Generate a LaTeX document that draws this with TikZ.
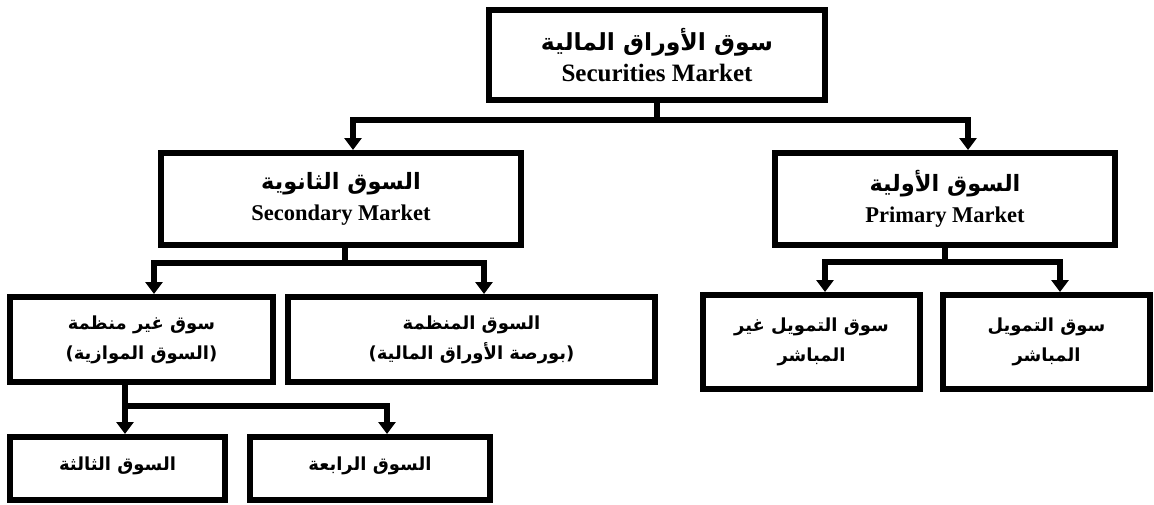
\documentclass[tikz,border=0pt]{standalone}
\usepackage{fontspec}
\setmainfont{Liberation Serif}
\newfontfamily\arabicfont[Script=Arabic]{DejaVu Sans}
\TeXXeTstate=1
\usetikzlibrary{arrows.meta}
% Arabic and Latin labels
\newcommand\ar[1]{{\arabicfont\bfseries\beginR #1\endR}}
\newcommand\en[1]{{\bfseries #1}}
\begin{document}
\begin{tikzpicture}[x=1pt,y=-1pt,
  box/.style={draw=black,line width=6pt,fill=white,inner sep=0pt,align=center},
  lvlone/.style={box,font=\fontsize{23.5}{31}\selectfont},
  lvltwo/.style={box,font=\fontsize{22.5}{31}\selectfont},
  lvlthree/.style={box,font=\fontsize{18}{30}\selectfont},
  link/.style={line width=5.5pt},
  arr/.style={line width=5.5pt,-{Triangle[width=17pt,length=12pt]}}]
\useasboundingbox (0,0) rectangle (1154,504);

% boxes
\node[lvlone,minimum width=336pt,minimum height=90pt] (top) at (657,55)
  {\ar{سوق الأوراق المالية}\\{\fontsize{25}{31}\selectfont\en{Securities Market}}};
\node[lvltwo,minimum width=360pt,minimum height=92pt] (sec) at (341,199)
  {\ar{السوق الثانوية}\\\en{Secondary Market}};
\node[lvltwo,minimum width=340pt,minimum height=92pt] (pri) at (945,199)
  {\ar{السوق الأولية}\\\en{Primary Market}};
\node[lvlthree,minimum width=263pt,minimum height=85pt] (otc) at (141.5,339.5)
  {\ar{سوق غير منظمة}\\\ar{(السوق الموازية)}};
\node[lvlthree,minimum width=367pt,minimum height=85pt] (exch) at (471.5,339.5)
  {\ar{السوق المنظمة}\\\ar{(بورصة الأوراق المالية)}};
\node[lvlthree,minimum width=217pt,minimum height=94pt] (indir) at (811.5,342)
  {\ar{سوق التمويل غير}\\\ar{المباشر}};
\node[lvlthree,minimum width=207pt,minimum height=94pt] (dir) at (1046.5,342)
  {\ar{سوق التمويل}\\\ar{المباشر}};
\node[lvlthree,minimum width=215pt,minimum height=63pt] (third) at (117.5,468.5)
  {\raisebox{9pt}{\ar{السوق الثالثة}}};
\node[lvlthree,minimum width=240pt,minimum height=63pt] (fourth) at (370,468.5)
  {\raisebox{9pt}{\ar{السوق الرابعة}}};

% junctions
\coordinate (j0) at (657,120);
\coordinate (j1) at (345,263);
\coordinate (j2) at (945,262);
\coordinate (j3) at (125,406);

% connectors
\draw[link] (top.south) -- (j0);
\draw[arr] (j0) -| ([xshift=12pt]sec.north);
\draw[arr] (j0) -| ([xshift=23pt]pri.north);

\draw[link] (sec.south -| j1) -- (j1);
\draw[arr] (j1) -| ([xshift=12.5pt]otc.north);
\draw[arr] (j1) -| ([xshift=12.5pt]exch.north);

\draw[link] (pri.south) -- (j2);
\draw[arr] (j2) -| ([xshift=13.5pt]indir.north);
\draw[arr] (j2) -| ([xshift=13.5pt]dir.north);

\draw[link] (otc.south -| j3) -- (j3);
\draw[arr] (j3) -- (j3 |- third.north);
\draw[arr] (j3) -| ([xshift=17pt]fourth.north);
\end{tikzpicture}
\end{document}
